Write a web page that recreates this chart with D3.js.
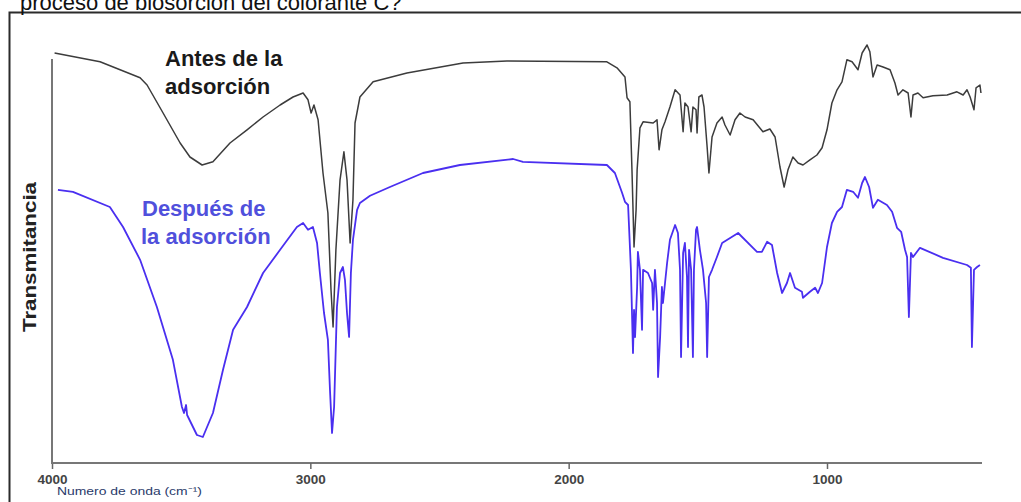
<!DOCTYPE html>
<html>
<head>
<meta charset="utf-8">
<script src="https://cdn.jsdelivr.net/npm/d3@7"></script>
<style>
  html, body { margin: 0; padding: 0; background: #fff; }
  svg { display: block; }
</style>
</head>
<body>
<svg id="chart" width="1021" height="502"></svg>
<script>
// FTIR spectra: wavenumber (cm-1) and transmittance (arbitrary units)
const antesWave = [3990, 3814, 3659, 3632, 3570, 3504, 3466, 3419, 3377, 3311, 3245, 3183, 3117, 3067, 3028, 3009, 2997, 2986, 2970, 2951, 2932, 2920, 2912, 2901, 2885, 2870, 2858, 2846, 2835, 2827, 2808, 2757, 2626, 2409, 2239, 1852, 1813, 1782, 1774, 1763, 1755, 1747, 1739, 1735, 1724, 1712, 1673, 1658, 1650, 1639, 1627, 1608, 1588, 1569, 1557, 1550, 1538, 1526, 1519, 1507, 1503, 1496, 1484, 1476, 1464, 1457, 1445, 1426, 1406, 1395, 1375, 1356, 1337, 1317, 1286, 1248, 1221, 1201, 1182, 1166, 1151, 1132, 1112, 1093, 1066, 1039, 1019, 1000, 981, 961, 942, 923, 903, 880, 864, 845, 834, 822, 806, 783, 756, 737, 725, 706, 686, 675, 667, 648, 628, 590, 535, 497, 473, 458, 446, 431, 423, 408, 404];
const antesT = [102.5, 100.3, 96.3, 94.5, 87.5, 80, 76.5, 74.5, 75.3, 80, 83.3, 86.5, 89.5, 91.5, 92.5, 90.8, 87.5, 89.5, 85.8, 72.5, 62.5, 43.3, 34, 53.3, 70.8, 77.8, 70.8, 55, 65.8, 85, 91.5, 95.3, 97.5, 100, 100.5, 100.3, 98.8, 96.5, 91.3, 90.3, 73.3, 54, 63.3, 73.3, 83.8, 85.3, 85, 85.8, 78.3, 83.3, 85.3, 89, 93.3, 92, 82.8, 90, 89, 82.8, 89, 88.3, 82.5, 91.5, 92, 89, 79, 72.5, 81.5, 85, 86.5, 84.5, 82, 85.8, 87.5, 86.5, 85.8, 82.8, 83.5, 81.5, 74, 69, 73.3, 76.5, 75, 74.5, 75.8, 77, 78.8, 83.3, 90, 93.3, 95.3, 100.8, 100.3, 98.3, 102.5, 104.5, 102.8, 96.5, 99.5, 99, 98.3, 95, 92, 93.3, 92.5, 86.5, 92, 92.5, 91.3, 91.8, 92, 92.8, 92, 93.3, 91.5, 88.3, 93.8, 94.5, 92.5];

const despuesWave = [3977, 3919, 3776, 3725, 3659, 3594, 3532, 3497, 3489, 3481, 3477, 3439, 3416, 3377, 3338, 3299, 3245, 3183, 3117, 3052, 3028, 3009, 2990, 2974, 2963, 2947, 2932, 2924, 2916, 2908, 2897, 2885, 2874, 2866, 2858, 2850, 2843, 2835, 2819, 2808, 2769, 2692, 2564, 2421, 2215, 2177, 1852, 1821, 1793, 1782, 1770, 1759, 1751, 1747, 1743, 1735, 1732, 1724, 1716, 1712, 1693, 1677, 1673, 1666, 1658, 1654, 1646, 1639, 1635, 1627, 1619, 1608, 1588, 1577, 1569, 1565, 1557, 1550, 1542, 1538, 1534, 1526, 1519, 1515, 1507, 1503, 1492, 1480, 1468, 1464, 1457, 1445, 1426, 1406, 1344, 1271, 1252, 1232, 1213, 1193, 1174, 1155, 1143, 1124, 1097, 1093, 1066, 1046, 1035, 1019, 1000, 981, 961, 942, 923, 899, 880, 864, 853, 837, 822, 803, 768, 748, 729, 713, 698, 690, 683, 675, 667, 640, 551, 458, 443, 439, 431, 419, 408];
const despuesT = [68.3, 67.8, 64, 59, 50.8, 39, 25.8, 14, 12.5, 14.5, 12, 7, 6.5, 12.5, 23.3, 33.3, 39, 47.5, 53.3, 59, 60, 58.3, 59, 55, 47.5, 37.5, 30.8, 18.3, 7.5, 14, 39, 47.5, 49, 45.8, 37.5, 31.5, 47.5, 55.8, 63.3, 65, 66.8, 69, 72.5, 74.5, 76, 75.3, 74.5, 72.5, 67.5, 65.3, 64.5, 48.3, 27.5, 38.3, 31.5, 44, 52.8, 48.3, 33.3, 48.3, 47.5, 45, 38.3, 48.3, 40, 21.5, 31.5, 44, 40, 45, 50, 55.8, 59.5, 57.5, 48.3, 26.5, 52.5, 55, 46.5, 29, 53.3, 48.3, 26.5, 48.3, 58.3, 59, 53.3, 48.3, 40, 26.5, 46.5, 48.3, 51.5, 55, 57.5, 52.8, 52.8, 55.3, 54.5, 47.5, 42.5, 45, 47.5, 43.8, 42.8, 41.3, 42.8, 43.8, 42.5, 45, 54, 60, 62.8, 64, 68.3, 67.8, 66.3, 70, 71.5, 69, 63.8, 65.8, 64.5, 62.8, 58.8, 57.8, 53.3, 51.5, 36.5, 52.5, 51.5, 53.8, 51.3, 49.5, 48.8, 29, 48.3, 49, 49.5];

const xTicks = [4000, 3000, 2000, 1000];

const svg = d3.select("#chart");
const W = 1021, H = 502;
const font = "Liberation Sans, Arial, sans-serif";

// Outer frame
svg.append("rect")
  .attr("x", 9.5).attr("y", 12.5)
  .attr("width", W + 10).attr("height", H)
  .attr("fill", "none").attr("stroke", "#2b2b2b").attr("stroke-width", 2);

// Caption line above the frame (runs off the top edge)
svg.append("text")
  .attr("x", 20).attr("y", 10)
  .attr("font-family", font)
  .attr("font-size", 22).attr("fill", "#111")
  .text("proceso de biosorción del colorante C?");

const x = d3.scaleLinear().domain([4000, 400]).range([52, 982]);
const y = d3.scaleLinear().domain([0, 100]).range([463, 63]);

// Axes
const xAxis = d3.axisBottom(x).tickValues(xTicks).tickSize(6).tickPadding(3).tickFormat(d3.format("d"));
const gx = svg.append("g").attr("transform", "translate(0,463)").call(xAxis);
gx.select(".domain").attr("stroke", "#777").attr("stroke-width", 2).attr("d", "M52,0H982");
gx.selectAll(".tick line").attr("stroke", "#666").attr("stroke-width", 1.5);
gx.selectAll(".tick text")
  .attr("dy", "0.9em")
  .attr("font-family", font)
  .attr("font-size", 13.5).attr("font-weight", "bold").attr("fill", "#444");

svg.append("line")
  .attr("x1", 52).attr("x2", 52).attr("y1", 59).attr("y2", 464)
  .attr("stroke", "#777").attr("stroke-width", 2);

// Axis titles
svg.append("text")
  .attr("x", 57).attr("y", 495)
  .attr("font-family", font)
  .attr("font-size", 11).attr("fill", "#2a3a6a")
  .attr("textLength", 145).attr("lengthAdjust", "spacingAndGlyphs")
  .text("Numero de onda (cm⁻¹)");

svg.append("text")
  .attr("transform", "translate(36,257) rotate(-90)")
  .attr("text-anchor", "middle")
  .attr("font-family", font)
  .attr("font-size", 18).attr("font-weight", "bold").attr("fill", "#222")
  .attr("textLength", 150).attr("lengthAdjust", "spacingAndGlyphs")
  .text("Transmitancia");

// Spectra
const line = d3.line().x(d => x(d[0])).y(d => y(d[1]));
const antes = antesWave.map((w, i) => [w, antesT[i]]);
const despues = despuesWave.map((w, i) => [w, despuesT[i]]);

svg.append("path").datum(antes)
  .attr("d", line).attr("fill", "none")
  .attr("stroke", "#3c3c3c").attr("stroke-width", 1.5).attr("stroke-linejoin", "round");

svg.append("path").datum(despues)
  .attr("d", line).attr("fill", "none")
  .attr("stroke", "#4a2ff0").attr("stroke-width", 1.8).attr("stroke-linejoin", "round");

// Series labels
const lab = svg.append("g")
  .attr("font-family", font)
  .attr("font-size", 22).attr("font-weight", "bold");
lab.append("text").attr("x", 165).attr("y", 66).attr("fill", "#1a1a1a").text("Antes de la");
lab.append("text").attr("x", 165).attr("y", 94).attr("fill", "#1a1a1a").text("adsorción");
lab.append("text").attr("x", 142).attr("y", 216).attr("fill", "#5050dc").text("Después de");
lab.append("text").attr("x", 141).attr("y", 244).attr("fill", "#5050dc").text("la adsorción");
</script>
</body>
</html>
